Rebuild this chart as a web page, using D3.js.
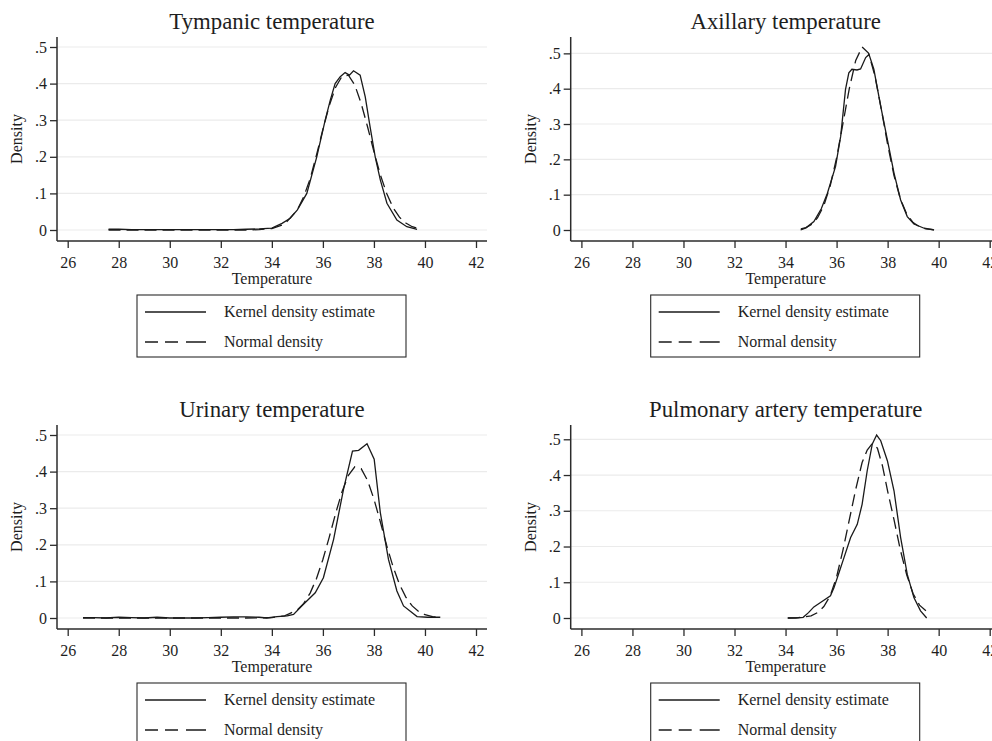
<!DOCTYPE html>
<html>
<head>
<meta charset="utf-8">
<script src="https://cdn.jsdelivr.net/npm/d3@7"></script>
<style>
    body { margin: 0; background: #fff; }
    text { font-family: "Liberation Serif", "Times New Roman", serif; fill: #1e1e1e; }
</style>
</head>
<body>
<script>
// four kernel density panels, each with a normal overlay
var titles = ["Tympanic temperature", "Axillary temperature",
              "Urinary temperature", "Pulmonary artery temperature"];
var xTicks = [26, 28, 30, 32, 34, 36, 38, 40, 42];
var yTicks = [0, 0.1, 0.2, 0.3, 0.4, 0.5];
var legendLabels = ["Kernel density estimate", "Normal density"];

// Tympanic
var tympKernelX = [27.6, 28, 28.5, 29, 30, 31, 32, 32.5, 33, 33.5, 34, 34.4,
    34.72, 35.0, 35.37, 35.76, 36.09, 36.29, 36.48, 36.68, 36.87, 37.04, 37.2,
    37.46, 37.66, 37.85, 38.05, 38.25, 38.51, 38.9, 39.29, 39.69];
var tympKernelY = [0.002, 0.002, 0.001, 0.001, 0.001, 0.001, 0.001, 0.001,
    0.002, 0.003, 0.005, 0.018, 0.032, 0.055, 0.1, 0.2, 0.3, 0.355, 0.4, 0.419,
    0.43, 0.423, 0.435, 0.423, 0.364, 0.282, 0.2, 0.137, 0.073, 0.027, 0.009,
    0.002];
var tympNormalX = [27.6, 29, 30, 31, 32, 33, 33.5, 34, 34.5, 35, 35.25, 35.5,
    35.75, 36, 36.25, 36.5, 36.75, 37, 37.25, 37.5, 37.75, 38, 38.25, 38.5,
    38.75, 39, 39.25, 39.5, 39.7];
var tympNormalY = [0, 0, 0, 0, 0, 0, 0.001, 0.004, 0.016, 0.055, 0.091, 0.14,
    0.205, 0.275, 0.34, 0.39, 0.42, 0.423, 0.396, 0.346, 0.282, 0.214, 0.151,
    0.1, 0.061, 0.035, 0.019, 0.009, 0.005];

// Axillary
var axilKernelX = [34.59, 34.8, 35.11, 35.4, 35.64, 35.96, 36.16, 36.35, 36.48,
    36.6, 36.8, 36.94, 37.14, 37.27, 37.46, 37.73, 37.99, 38.25, 38.51, 38.77,
    39.03, 39.43, 39.82];
var axilKernelY = [0, 0.006, 0.024, 0.06, 0.104, 0.18, 0.265, 0.398, 0.445,
    0.455, 0.453, 0.456, 0.488, 0.497, 0.455, 0.35, 0.256, 0.161, 0.085, 0.038,
    0.017, 0.005, 0];
var axilNormalX = [34.6, 34.8, 35, 35.25, 35.5, 35.75, 36, 36.25, 36.5, 36.75,
    37, 37.25, 37.5, 37.75, 38, 38.25, 38.5, 38.75, 39, 39.25, 39.5, 39.8];
var axilNormalY = [0.003, 0.007, 0.015, 0.034, 0.069, 0.125, 0.204, 0.302,
    0.401, 0.48, 0.518, 0.501, 0.437, 0.343, 0.242, 0.154, 0.088, 0.045, 0.021,
    0.009, 0.003, 0.001];

// Urinary
var uriKernelX = [26.6, 27, 27.5, 28, 28.5, 29, 29.5, 30, 30.5, 31, 31.5, 32,
    32.5, 33, 33.5, 33.8, 34.2, 34.6, 34.85, 35.2, 35.7, 36.02, 36.42, 36.81,
    37.16, 37.4, 37.73, 38.01, 38.25, 38.57, 38.9, 39.16, 39.69, 40.1, 40.6];
var uriKernelY = [0.001, 0.001, 0, 0.002, 0.001, 0, 0.002, 0, 0, 0, 0.001,
    0.002, 0.003, 0.003, 0.002, 0, 0.004, 0.006, 0.01, 0.035, 0.069, 0.11,
    0.215, 0.352, 0.456, 0.458, 0.476, 0.434, 0.288, 0.16, 0.074, 0.033, 0.004,
    0.002, 0.002];
var uriNormalX = [26.6, 28, 30, 32, 33, 34, 34.5, 35, 35.25, 35.5, 35.75, 36,
    36.25, 36.5, 36.75, 37, 37.25, 37.5, 37.75, 38, 38.25, 38.5, 38.75, 39,
    39.25, 39.5, 39.75, 40, 40.3, 40.6];
var uriNormalY = [0, 0, 0, 0, 0, 0.001, 0.006, 0.022, 0.04, 0.068, 0.108, 0.16,
    0.221, 0.286, 0.345, 0.39, 0.413, 0.408, 0.376, 0.325, 0.263, 0.198, 0.14,
    0.092, 0.057, 0.033, 0.018, 0.009, 0.004, 0.001];

// Pulmonary artery
var pulmKernelX = [34.08, 34.4, 34.69, 34.9, 35.11, 35.4, 35.76, 35.9, 36.1,
    36.29, 36.55, 36.81, 37.0, 37.2, 37.4, 37.57, 37.73, 37.99, 38.25, 38.51,
    38.77, 39.03, 39.29, 39.53];
var pulmKernelY = [0, 0, 0.002, 0.015, 0.031, 0.045, 0.062, 0.085, 0.128,
    0.169, 0.225, 0.262, 0.318, 0.412, 0.487, 0.512, 0.496, 0.44, 0.356, 0.225,
    0.122, 0.057, 0.02, 0];
var pulmNormalX = [34.1, 34.5, 35, 35.25, 35.5, 35.75, 36, 36.25, 36.5, 36.75,
    37, 37.2, 37.4, 37.6, 37.8, 38, 38.25, 38.5, 38.75, 39, 39.25, 39.5];
var pulmNormalY = [0, 0.001, 0.006, 0.015, 0.032, 0.062, 0.115, 0.19, 0.275,
    0.36, 0.435, 0.47, 0.488, 0.475, 0.425, 0.355, 0.275, 0.19, 0.12, 0.068,
    0.036, 0.02];

var panels = [
    [tympKernelX, tympKernelY, tympNormalX, tympNormalY],
    [axilKernelX, axilKernelY, axilNormalX, axilNormalY],
    [uriKernelX, uriKernelY, uriNormalX, uriNormalY],
    [pulmKernelX, pulmKernelY, pulmNormalX, pulmNormalY]
];

var svg = d3.select("body")
    .append("svg")
    .attr("width", 992)
    .attr("height", 741);

var plotW = 430, plotH = 204;
var lefts = [57, 570.7];
var tops = [37, 425];
var ink = "#2b2b2b";

function fmtY(d)
{
    // stata style: 0, .1, .2 ...
    return d === 0 ? "0" : d3.format(".1f")(d).replace(/^0/, "");
}

function pairs(xs, ys)
{
    return xs.map(function(v, i) { return [v, ys[i]]; });
}

panels.forEach(function(p, i)
{
    var left = lefts[i % 2];
    var top = tops[Math.floor(i / 2)];
    var g = svg.append("g");

    var ymax = Math.max(0.5, d3.max(p[1]), d3.max(p[3]));
    var x = d3.scaleLinear()
        .domain([26, 42])
        .range([left + 10.7, left + plotW - 11]);
    var y = d3.scaleLinear()
        .domain([0, ymax])
        .range([top + plotH - 11, top + 10]);

    // grid
    g.selectAll(".grid")
        .data(yTicks)
        .enter().append("line")
        .attr("x1", left)
        .attr("x2", left + plotW)
        .attr("y1", function(d) { return y(d); })
        .attr("y2", function(d) { return y(d); })
        .attr("stroke", "#ebebeb")
        .attr("stroke-width", 1.2);

    // axes
    var xa = g.append("g")
        .attr("transform", "translate(0," + (top + plotH) + ")")
        .call(d3.axisBottom(x).tickValues(xTicks).tickSize(7).tickPadding(9)
            .tickFormat(d3.format("d")));
    var ya = g.append("g")
        .attr("transform", "translate(" + left + ",0)")
        .call(d3.axisLeft(y).tickValues(yTicks).tickSize(7).tickPadding(3)
            .tickFormat(fmtY));
    [xa, ya].forEach(function(a)
    {
        a.select(".domain").remove();
        a.selectAll("line").attr("stroke", ink).attr("stroke-width", 1.3);
        a.selectAll("text").attr("font-size", 16).attr("fill", "#1e1e1e")
            .style("font-family", "'Liberation Serif', 'Times New Roman', serif");
    });
    g.append("line")
        .attr("x1", left).attr("x2", left + plotW)
        .attr("y1", top + plotH).attr("y2", top + plotH)
        .attr("stroke", ink).attr("stroke-width", 1.5);
    g.append("line")
        .attr("x1", left).attr("x2", left)
        .attr("y1", top).attr("y2", top + plotH)
        .attr("stroke", ink).attr("stroke-width", 1.5);

    // curves
    var line = d3.line()
        .x(function(d) { return x(d[0]); })
        .y(function(d) { return y(d[1]); });
    g.append("path")
        .attr("d", line(pairs(p[0], p[1])))
        .attr("fill", "none")
        .attr("stroke", "#1a1a1a")
        .attr("stroke-width", 1.3);
    g.append("path")
        .attr("d", line(pairs(p[2], p[3])))
        .attr("fill", "none")
        .attr("stroke", "#1a1a1a")
        .attr("stroke-width", 1.3)
        .attr("stroke-dasharray", "12,6");

    // titles
    g.append("text")
        .attr("x", left + 215)
        .attr("y", top - 8)
        .attr("text-anchor", "middle")
        .attr("font-size", 22.8)
        .text(titles[i]);
    g.append("text")
        .attr("transform", "translate(" + (left - 35) + "," + (top + 102) + ") rotate(-90)")
        .attr("text-anchor", "middle")
        .attr("font-size", 16)
        .text("Density");
    g.append("text")
        .attr("x", left + 215)
        .attr("y", top + 247)
        .attr("text-anchor", "middle")
        .attr("font-size", 16)
        .text("Temperature");

    // legend
    var lg = g.append("g")
        .attr("transform", "translate(" + (left + 80) + "," + (top + 258) + ")");
    lg.append("rect")
        .attr("width", 269)
        .attr("height", 62)
        .attr("fill", "#fff")
        .attr("stroke", ink)
        .attr("stroke-width", 1.1);
    legendLabels.forEach(function(lab, j)
    {
        lg.append("line")
            .attr("x1", 8).attr("x2", 69)
            .attr("y1", 17 + j * 30).attr("y2", 17 + j * 30)
            .attr("stroke", "#1a1a1a")
            .attr("stroke-width", 1.3)
            .attr("stroke-dasharray", j === 1 ? "13,7,13,8,20" : null);
        lg.append("text")
            .attr("x", 87)
            .attr("y", 22 + j * 30)
            .attr("font-size", 16)
            .text(lab);
    });
});
</script>
</body>
</html>
